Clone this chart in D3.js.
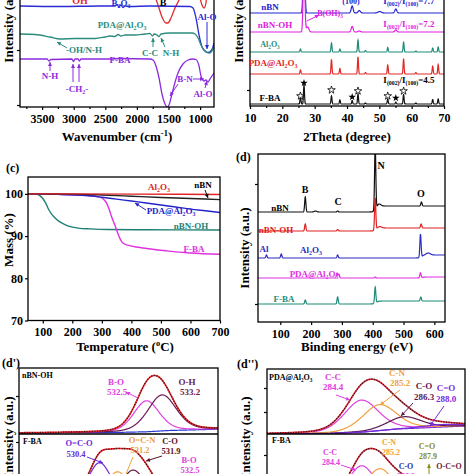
<!DOCTYPE html>
<html><head><meta charset="utf-8">
<script src="https://cdn.jsdelivr.net/npm/d3@7"></script>
<style>body{margin:0;background:#fff}svg{display:block}</style>
</head><body><script>
// ================= DATA =================
// (a) FTIR  [wavenumber cm-1, intensity a.u.]
const ftirTicks=[3500,3000,2500,2000,1500,1000];
const ftirMinor=[3750,3250,2750,2250,1750,1250];
const ftirNBNOH=[[3850,115],[1793,115],[1714,110],[1666,102],[1603,90],[1540,84],[1508,84],[1461,89],[1397,99],[1334,107],[1286,115],[1033,115],[1002,109],[970,102],[938,99],[907,104],[891,115],[780,115]];
const ftirNBN=[[3850,101],[3217,100.5],[2584,101],[2347,101],[2315,102.5],[2283,100],[2252,102],[2220,99.5],[2188,101],[2109,100.5],[1793,101],[1160,100.5],[1112,99],[1065,89],[1017,72],[970,60],[922,56],[875,54.5],[828,56],[796,60],[780,64]];
const ftirPDA=[[3850,73],[3613,72.5],[3375,70],[3217,68],[2980,68.5],[2663,68.5],[2505,70],[2426,71],[2347,70.5],[2299,72.5],[2252,71],[2188,72],[2030,72],[1872,73],[1793,73.5],[1753,71],[1729,73],[1682,72],[1650,70.5],[1619,73],[1476,74],[1239,74],[1128,74],[1081,73],[1033,69],[986,62],[938,57],[891,54.5],[843,54],[812,56],[780,61]];
const ftirFBA=[[3850,48],[3423,48],[3391,46],[3360,47.5],[3027,48],[3003,45.5],[2980,48],[2932,48],[2909,46],[2885,48],[2426,48],[2268,48.5],[1793,48],[1745,47],[1698,41],[1650,29],[1603,13],[1555,3],[1524,0],[1492,2],[1461,9],[1413,21],[1350,34],[1271,43],[1192,47],[1112,48],[1065,47.5],[1017,41],[986,31],[938,26],[907,27],[875,25],[844,28],[812,31],[780,34]];

// (b) XRD  peaks [2theta, height] on offsets
const xrdTicks=[10,20,30,40,50,60,70];
const xrdNames=['nBN','nBN-OH','Al2O3','PDA@Al2O3','F-BA'];
const xrdOffsets=[93,74,54,32,2];
const xrdPeaksNBN=[[26.7,80,0.25],[41.6,7,0.3],[43.8,2.5,0.35],[50.1,1.5,0.5],[55.1,4,0.3]];
const xrdPeaksNBNOH=[[26.7,80,0.25],[27.8,5,0.4],[41.6,5.5,0.3],[43.8,1,0.35],[55.1,2.2,0.3]];
const xrdPeaksAl2O3=[[25.6,3],[35.2,9],[37.8,3],[43.4,12],[45.7,1.5],[52.6,4.5],[57.5,10],[61.3,1],[66.5,4],[68.2,5]];
const xrdPeaksPDA=[[25.6,4],[35.2,14.5],[37.8,5.5],[43.4,17],[45.7,1.5],[52.6,9],[57.5,15],[61.3,1.5],[66.5,8],[68.2,9.5]];
const xrdPeaksFBA=[[25.6,7],[26.7,19],[35.2,8],[37.8,4],[41.6,3.5],[43.4,10],[45.7,1],[52.6,5],[55.1,2],[57.5,9.5],[61.3,1],[66.5,4.5],[68.2,5]];
const xrdStarsFilled=[[26.7,23],[41.6,9],[55.1,8]];
const xrdStarsHollow=[[25.6,10],[35.2,16],[43.4,15],[52.6,10],[57.5,15]];

// (c) TGA [temperature C, mass %]
const tgaXTicks=[100,200,300,400,500,600,700];
const tgaYTicks=[70,80,90,100];
const tgaAl2O3=[[50,100],[200,100],[400,99.95],[700,99.85]];
const tgaNBN=[[50,100],[200,99.95],[300,99.75],[400,99.45],[500,99.15],[600,98.9],[700,98.65]];
const tgaPDA=[[50,100],[150,99.9],[250,99.6],[300,99.2],[350,98.75],[400,98.3],[450,97.85],[500,97.35],[550,96.9],[600,96.4],[650,96],[700,95.6]];
const tgaNBNOH=[[50,100],[80,99.9],[90,99.6],[100,98.9],[110,97.8],[120,96.3],[130,95.2],[140,94.4],[155,93.5],[170,92.9],[190,92.3],[220,91.9],[260,91.7],[320,91.55],[450,91.5],[700,91.45]];
const tgaFBA=[[50,100],[150,99.9],[250,99.6],[290,99.3],[305,98.8],[316,97.8],[325,96.3],[333,94.6],[344,92.6],[356,90.3],[367,88.7],[384,87.9],[429,87.3],[519,86.5],[600,86],[700,85.7]];

// (d) XPS survey: peaks [BE eV, height, sigma?], offsets, steps [BE, rise]
const surveyTicks=[100,200,300,400,500,600];
const surveyNames=['nBN','nBN-OH','Al2O3','PDA@Al2O3','F-BA'];
const surveyOffsets=[110,91,64,44,18];
const surveySteps=[[408,6],[408,3],[556,3],[556,1],[408,3]];
const surveyPeaksNBN=[[181,15],[214,1,4],[286,1],[408,64],[420,2.5,6],[558,4]];
const surveyPeaksNBNOH=[[181,7],[286,1.5],[408,32],[422,1.5,7],[557,4]];
const surveyPeaksAl2O3=[[55,3],[103,4],[286,3],[555,23],[580,2,7]];
const surveyPeaksPDA=[[284,5],[290,4],[408,1],[555,5]];
const surveyPeaksFBA=[[181,4],[286,7],[408,16],[556,4]];

// (d') O1s fits: centers eV, heights, fwhm
const o1sNBNOHNames=['B-O','O-H'];
const o1sNBNOHCenters=[532.5,533.2];
const o1sNBNOHHeights=[31,36];
const o1sNBNOHFwhm=[1.35,1.5];
const o1sNBNOHBg=[[526.8,0],[531,0.5],[532.5,1.2],[533.5,2.5],[535.7,3.8]];
const o1sFBANames=['O=C-O','O=C-N','C-O','B-O'];
const o1sFBACenters=[530.4,531.2,531.9,532.5];
const o1sFBAHeights=[36,26,27,16];
const o1sFBAFwhm=[1.2,1.2,1.2,1.2];
const o1sFBABg=[[526.8,0],[530,1],[532,3],[535.7,5]];

// (d'') C1s fits
const c1sPDANames=['C-C','C-N','C-O','C=O'];
const c1sPDACenters=[284.4,285.2,286.3,288.0];
const c1sPDAHeights=[32,26,12,2.5];
const c1sPDAFwhm=[1.8,1.8,1.8,2.0];
const c1sPDABg=[[280.2,0],[283,0.5],[284.5,2],[286,5],[289,8]];
const c1sFBANames=['C-C','C-N','C-O','C=O','O-C=O'];
const c1sFBACenters=[284.4,285.2,286.2,287.9,288.8];
const c1sFBAHeights=[32,28,12,5,4];
const c1sFBAFwhm=[1.4,1.4,1.5,1.5,1.5];
const c1sFBABg=[[280.2,0],[283,0.5],[285,3],[287,6],[289,8]];

// ================= DRAW =================
const FONT='"Liberation Serif","Times New Roman",serif';
const svg=d3.select('body').append('svg').attr('width',474).attr('height',474);
const defs=svg.append('defs');
let clipN=0;
function clip(x,y,w,h){const id='c'+(clipN++);defs.append('clipPath').attr('id',id).append('rect').attr('x',x).attr('y',y).attr('width',w).attr('height',h);return 'url(#'+id+')';}
function rich(g,x,y,s,o={}){
  const size=o.size||10;
  const t=g.append('text').attr('x',x).attr('y',y).attr('font-size',size).attr('fill',o.color||'#000')
    .attr('text-anchor',o.anchor||'start').style('font-family',FONT).style('font-weight','bold');
  if(o.rotate) t.attr('transform',`rotate(${o.rotate},${x},${y})`);
  const re=/\^\{([^}]*)\}|_\{([^}]*)\}|([^_^]+)/g;let m;let cur=0;
  while((m=re.exec(s))){
    if(m[1]!==undefined){const sh=-size*0.38;t.append('tspan').attr('dy',sh-cur).attr('font-size',size*0.65).text(m[1]);cur=sh;}
    else if(m[2]!==undefined){const sh=size*0.25;t.append('tspan').attr('dy',sh-cur).attr('font-size',size*0.65).text(m[2]);cur=sh;}
    else{t.append('tspan').attr('dy',-cur).text(m[3]);cur=0;}
  }
  return t;
}
function arrow(g,x1,y1,x2,y2,c){
  g.append('line').attr('x1',x1).attr('y1',y1).attr('x2',x2).attr('y2',y2).attr('stroke',c).attr('stroke-width',1);
  const a=Math.atan2(y2-y1,x2-x1),L=4,W=2;
  const p=[[x2,y2],[x2-L*Math.cos(a)+W*Math.sin(a),y2-L*Math.sin(a)-W*Math.cos(a)],[x2-L*Math.cos(a)-W*Math.sin(a),y2-L*Math.sin(a)+W*Math.cos(a)]];
  g.append('polygon').attr('points',p.map(d=>d.join(',')).join(' ')).attr('fill',c);
}
function frame(x,y,w,h){svg.append('rect').attr('x',x).attr('y',y).attr('width',w).attr('height',h).attr('fill','none').attr('stroke','#000').attr('stroke-width',1.3);}
function styleAxis(sel,size){sel.select('.domain').remove();sel.selectAll('line').attr('stroke','#000').attr('stroke-width',1.2);
  sel.selectAll('text').style('font-family',FONT).style('font-weight','bold').style('font-size',(size||12)+'px').attr('fill','#000');}
function plotLine(g,data,x,y,color,w,curve){
  g.append('path').datum(data).attr('fill','none').attr('stroke',color).attr('stroke-width',w||1.2)
   .attr('d',d3.line().x(d=>x(d[0])).y(d=>y(d[1])).curve(curve||d3.curveMonotoneX));
}
function xTitle(x,y,s){rich(svg,x,y,s,{size:13,anchor:'middle'});}
function yTitle(x,y,s){rich(svg,x,y,s,{size:13,anchor:'middle',rotate:-90});}

// ---------- (a) ----------
{
const x=d3.scaleLinear().domain([3850,780]).range([20,214]);
const y=d3.scaleLinear().domain([0,110]).range([107,-3]);
const g=svg.append('g').attr('clip-path',clip(20,-10,194,117));
plotLine(g,ftirNBNOH,x,y,'#e42a2a',1.3);
plotLine(g,ftirNBN,x,y,'#2b2bd4',1.3);
plotLine(g,ftirPDA,x,y,'#2a8c7c',1.3);
plotLine(g,ftirFBA,x,y,'#8b2be0',1.3);
frame(20,-5,194,112);
styleAxis(svg.append('g').attr('transform','translate(0,107)').call(d3.axisBottom(x).tickValues(ftirTicks).tickSize(3).tickPadding(4).tickFormat(d3.format('d'))));
styleAxis(svg.append('g').attr('transform','translate(0,107)').call(d3.axisBottom(x).tickValues(ftirMinor).tickSize(2).tickFormat('')));
styleAxis(svg.append('g').attr('transform','translate(20,0)').call(d3.axisLeft(y).tickValues([2,57]).tickSize(3).tickFormat('')));
xTitle(117,141,'Wavenumber (cm^{-1})');
yTitle(13,22,'Intensity (a.u.)');
const a=svg.append('g');
rich(a,80,4,'OH',{color:'#e42a2a',anchor:'middle',size:10});
rich(a,121,6,'B_{2}O_{3}',{color:'#2b2bd4',anchor:'middle',size:9});
rich(a,163,6,'B',{anchor:'middle',size:10});
rich(a,207,20,'Al-O',{color:'#2b2bd4',anchor:'middle',size:9});arrow(a,207,22,207,49,'#2b2bd4');
rich(a,122,28,'PDA@Al_{2}O_{3}',{color:'#2a8c7c',anchor:'middle',size:9});
rich(a,84,53,'-OH/N-H',{color:'#2a8c7c',anchor:'middle',size:9});arrow(a,67,48,57,42,'#2a8c7c');
rich(a,150,56,'C-C',{color:'#2a8c7c',anchor:'middle',size:9});arrow(a,153,47,153,38,'#2a8c7c');
rich(a,171,56,'N-H',{color:'#2a8c7c',anchor:'middle',size:9});arrow(a,165,47,161,38,'#2a8c7c');
rich(a,120,63,'F-BA',{color:'#8b2be0',anchor:'middle',size:9});
rich(a,50,79,'N-H',{color:'#8b2be0',anchor:'middle',size:9});arrow(a,50,71,50,62,'#8b2be0');
rich(a,77,92,'-CH_{2}-',{color:'#8b2be0',anchor:'middle',size:9});arrow(a,73,82,73,64,'#8b2be0');arrow(a,79,82,79,64,'#8b2be0');
rich(a,185,82,'B-N',{color:'#8b2be0',anchor:'middle',size:9});arrow(a,178,84,170,96,'#8b2be0');arrow(a,193,79,204,79,'#8b2be0');
rich(a,203,97,'Al-O',{color:'#8b2be0',anchor:'middle',size:9});arrow(a,205,88,207,81,'#8b2be0');
}

// ---------- (b) ----------
{
const x=d3.scaleLinear().domain([10,70]).range([250,444]);
const y=d3.scaleLinear().domain([0,110]).range([106,-4]);
const g=svg.append('g').attr('clip-path',clip(250,-10,194,116));
const grid=d3.range(10,70.001,0.04);
function xrd(peaks,off,sig){return grid.map(t=>[t,off+d3.sum(peaks,p=>p[1]*Math.exp(-0.5*((t-p[0])/(p[2]||sig))**2))]);}
const cols=['#2424d0','#e020e0','#1f8c78','#e02828','#111'];
[xrdPeaksNBN,xrdPeaksNBNOH,xrdPeaksAl2O3,xrdPeaksPDA,xrdPeaksFBA].forEach((pk,i)=>plotLine(g,xrd(pk,xrdOffsets[i],0.15),x,y,cols[i],1.2,d3.curveLinear));
frame(250,-5,194,111);
const st=d3.symbol().type(d3.symbolStar).size(18);
svg.selectAll('.sf').data(xrdStarsFilled).join('path').attr('d',st).attr('transform',d=>`translate(${x(d[0])},${y(d[1])})`).attr('fill','#000');
svg.selectAll('.sh').data(xrdStarsHollow).join('path').attr('d',st).attr('transform',d=>`translate(${x(d[0])},${y(d[1])})`).attr('fill','#fff').attr('stroke','#000').attr('stroke-width',0.8);
styleAxis(svg.append('g').attr('transform','translate(0,106)').call(d3.axisBottom(x).tickValues(xrdTicks).tickSize(3).tickPadding(4)));
styleAxis(svg.append('g').attr('transform','translate(0,106)').call(d3.axisBottom(x).tickValues([15,25,35,45,55,65]).tickSize(2).tickFormat('')));
styleAxis(svg.append('g').attr('transform','translate(250,0)').call(d3.axisLeft(y).tickValues([16]).tickSize(3).tickFormat('')));
xTitle(347,141,'2Theta (degree)');
yTitle(243,22,'Intensity (a.u.)');
const a=svg.append('g');
rich(a,351,4,'(100)',{color:'#2424d0',anchor:'middle',size:8});
rich(a,409,4,'I_{(002)}/I_{(100)}=7.7',{color:'#2424d0',anchor:'middle',size:9});
rich(a,270,10,'nBN',{color:'#2424d0',anchor:'middle',size:9});
rich(a,275,28,'nBN-OH',{color:'#e020e0',anchor:'middle',size:9});
rich(a,330,16,'B(OH)_{3}',{color:'#e020e0',anchor:'middle',size:8});arrow(a,307,21,319,15,'#e020e0');
rich(a,409,27,'I_{(002)}/I_{(100)}=7.2',{color:'#e020e0',anchor:'middle',size:9});
rich(a,270,47,'Al_{2}O_{3}',{color:'#1f8c78',anchor:'middle',size:8});
rich(a,273,66,'PDA@Al_{2}O_{3}',{color:'#e02828',anchor:'middle',size:9});
rich(a,270,101,'F-BA',{anchor:'middle',size:9});
rich(a,409,83,'I_{(002)}/I_{(100)}=4.5',{anchor:'middle',size:9});
}

// ---------- (c) ----------
{
const x=d3.scaleLinear().domain([50,700]).range([28,220]);
const y=d3.scaleLinear().domain([70,104]).range([320.5,177]);
const g=svg.append('g').attr('clip-path',clip(28,177,192,143.5));
plotLine(g,tgaNBNOH,x,y,'#1f7f74',1.4);
plotLine(g,tgaFBA,x,y,'#e030e0',1.4);
plotLine(g,tgaPDA,x,y,'#2424c8',1.4);
plotLine(g,tgaNBN,x,y,'#222',1.4);
plotLine(g,tgaAl2O3,x,y,'#e02424',1.4);
frame(28,177,192,143.5);
styleAxis(svg.append('g').attr('transform','translate(0,320.5)').call(d3.axisBottom(x).tickValues(tgaXTicks).tickSize(3).tickPadding(4)));
styleAxis(svg.append('g').attr('transform','translate(28,0)').call(d3.axisLeft(y).tickValues(tgaYTicks).tickSize(3).tickPadding(2)));
xTitle(125,351,'Temperature (^{o}C)');
yTitle(13,240,'Mass (%)');
const a=svg.append('g');
rich(a,6,172,'(c)',{size:12});
rich(a,159,190,'Al_{2}O_{3}',{color:'#e02424',anchor:'middle',size:9});
rich(a,203,188,'nBN',{anchor:'middle',size:9});arrow(a,205,190,208,198,'#111');
rich(a,171,214,'PDA@Al_{2}O_{3}',{color:'#2424c8',anchor:'middle',size:9});arrow(a,146,210,135,203,'#2424c8');
rich(a,191,229,'nBN-OH',{color:'#1f7f74',anchor:'middle',size:9});
rich(a,194,252,'F-BA',{color:'#e030e0',anchor:'middle',size:9});
}

// ---------- (d) ----------
{
const x=d3.scaleLinear().domain([27.6,634.6]).range([258,445]);
const y=d3.scaleLinear().domain([0,168]).range([322,154]);
const g=svg.append('g').attr('clip-path',clip(258,154,187,168));
const grid=d3.range(27.6,634.6,0.5);
function surv(peaks,off,step){return grid.map(e=>[e,off+step[1]/(1+Math.exp(-(e-step[0]-3)/4))+d3.sum(peaks,p=>p[1]*Math.exp(-0.5*((e-p[0])/(p[2]||2))**2))]);}
const cols=['#111','#e02020','#2c2cc0','#e030e0','#1f8c78'];
[surveyPeaksNBN,surveyPeaksNBNOH,surveyPeaksAl2O3,surveyPeaksPDA,surveyPeaksFBA].forEach((pk,i)=>plotLine(g,surv(pk,surveyOffsets[i],surveySteps[i]),x,y,cols[i],1.2,d3.curveLinear));
frame(258,154,187,168);
styleAxis(svg.append('g').attr('transform','translate(0,322)').call(d3.axisBottom(x).tickValues(surveyTicks).tickSize(3).tickPadding(4)));
styleAxis(svg.append('g').attr('transform','translate(258,0)').call(d3.axisLeft(y).tickValues([138,18]).tickSize(3).tickFormat('')));
xTitle(357,351,'Binding energy (eV)');
yTitle(249,248,'Intensity (a.u.)');
const a=svg.append('g');
rich(a,236,161,'(d)',{size:12});
rich(a,305,193,'B',{anchor:'middle',size:10});
rich(a,338,205,'C',{anchor:'middle',size:10});
rich(a,381,169,'N',{anchor:'middle',size:10});
rich(a,421,197,'O',{anchor:'middle',size:10});
rich(a,280,211,'nBN',{anchor:'middle',size:9});
rich(a,276,233,'nBN-OH',{color:'#e02020',anchor:'middle',size:9});
rich(a,264,252,'Al',{color:'#2c2cc0',anchor:'middle',size:9});
rich(a,311,253,'Al_{2}O_{3}',{color:'#2c2cc0',anchor:'middle',size:9});
rich(a,314,277,'PDA@Al_{2}O_{3}',{color:'#e030e0',anchor:'middle',size:9});
rich(a,284,302,'F-BA',{color:'#1f8c78',anchor:'middle',size:9});
}

// ---------- fit panels helper ----------
function pv(e,c,h,f){const d=(e-c)/f;return h*(0.7*Math.exp(-4*Math.LN2*d*d)+0.3/(1+4*d*d));}
function fitPanel(g,x,y,dom,centers,heights,fwhm,bg,compCols,bgCol,envCol){
  const grid=d3.range(dom[0],dom[1]+0.001,0.02);
  const bgs=d3.scaleLinear().domain(bg.map(d=>d[0])).range(bg.map(d=>d[1]));
  plotLine(g,grid.map(e=>[e,bgs(e)]),x,y,bgCol,1.2,d3.curveLinear);
  centers.forEach((c,i)=>plotLine(g,grid.map(e=>[e,bgs(e)+pv(e,c,heights[i],fwhm[i])]),x,y,compCols[i],1.2,d3.curveLinear));
  const env=grid.map(e=>[e,bgs(e)+d3.sum(centers,(c,i)=>pv(e,c,heights[i],fwhm[i]))]);
  plotLine(g,env,x,y,envCol,1.6,d3.curveLinear);
  g.append('path').datum(env).attr('fill','none').attr('stroke','#3a0d0d').attr('stroke-width',1.3).attr('stroke-dasharray','1 1.6')
   .attr('d',d3.line().x(d=>x(d[0])).y(d=>y(d[1])));
}

// ---------- (d') ----------
{
const dom=[526.8,535.7];
const x=d3.scaleLinear().domain(dom).range([19,218]);
const yU=d3.scaleLinear().domain([0,65]).range([433,368]);
const yL=d3.scaleLinear().domain([0,66]).range([500,434]);
const gU=svg.append('g').attr('clip-path',clip(19,368,199,66));
const gL=svg.append('g').attr('clip-path',clip(19,434,199,50));
fitPanel(gU,x,yU,dom,o1sNBNOHCenters,o1sNBNOHHeights,o1sNBNOHFwhm,o1sNBNOHBg,['#e040e0','#6b1a55'],'#2a3ad0','#e8242a');
fitPanel(gL,x,yL,dom,o1sFBACenters,o1sFBAHeights,o1sFBAFwhm,o1sFBABg,['#6a2ad8','#f0a040','#6b1a40','#e040e0'],'#2a3ad0','#e8242a');
frame(19,368,199,120);
svg.append('line').attr('x1',19).attr('x2',218).attr('y1',434).attr('y2',434).attr('stroke','#000').attr('stroke-width',1.3);
styleAxis(svg.append('g').attr('transform','translate(19,0)').call(d3.axisLeft(yU).tickValues([37]).tickSize(3).tickFormat('')));
styleAxis(svg.append('g').attr('transform','translate(19,0)').call(d3.axisLeft(yL).tickValues([58]).tickSize(3).tickFormat('')));
yTitle(13,437,'Intensity (a.u.)');
const a=svg.append('g');
rich(a,2,367,"(d')",{size:12});
rich(a,22,378,'nBN-OH',{size:8});
rich(a,116,385,'B-O',{color:'#e040e0',anchor:'middle',size:9});
rich(a,117,395,'532.5',{color:'#e040e0',anchor:'middle',size:9});arrow(a,138,398,126,392,'#e040e0');
rich(a,187,385,'O-H',{color:'#6b1a55',anchor:'middle',size:9});
rich(a,190,395,'533.2',{color:'#6b1a55',anchor:'middle',size:9});
rich(a,23,444,'F-BA',{size:8});
rich(a,79,446,'O=C-O',{color:'#6a2ad8',anchor:'middle',size:8.5});
rich(a,76,457,'530.4',{color:'#6a2ad8',anchor:'middle',size:8.5});arrow(a,87,457,103,463,'#6a2ad8');
rich(a,142,443,'O=C-N',{color:'#f0a040',anchor:'middle',size:8.5});
rich(a,140,453,'531.2',{color:'#f0a040',anchor:'middle',size:8.5});a.append('line').attr('x1',133).attr('y1',457).attr('x2',126).attr('y2',474).attr('stroke','#f0a040');
rich(a,170,444,'C-O',{color:'#5a1020',anchor:'middle',size:8.5});
rich(a,171,454,'531.9',{color:'#5a1020',anchor:'middle',size:8.5});arrow(a,162,456,146,461,'#5a1020');
rich(a,189,463,'B-O',{color:'#e040e0',anchor:'middle',size:8.5});
rich(a,190,473,'532.5',{color:'#e040e0',anchor:'middle',size:8.5});
}

// ---------- (d'') ----------
{
const dom=[280.2,289.0];
const x=d3.scaleLinear().domain(dom).range([267,465]);
const yU=d3.scaleLinear().domain([0,65]).range([434,369]);
const yL=d3.scaleLinear().domain([0,66]).range([500,434]);
const gU=svg.append('g').attr('clip-path',clip(267,369,198,65));
const gL=svg.append('g').attr('clip-path',clip(267,434,198,50));
fitPanel(gU,x,yU,dom,c1sPDACenters,c1sPDAHeights,c1sPDAFwhm,c1sPDABg,['#e040e0','#f0a040','#5a1a50','#7a2ae0'],'#6a2ad8','#d8283a');
fitPanel(gL,x,yL,dom,c1sFBACenters,c1sFBAHeights,c1sFBAFwhm,c1sFBABg,['#e040e0','#f0a040','#3030b0','#8a8a10','#6b1a40'],'#6a2ad8','#d8283a');
frame(267,369,198,120);
svg.append('line').attr('x1',267).attr('x2',465).attr('y1',434).attr('y2',434).attr('stroke','#000').attr('stroke-width',1.3);
styleAxis(svg.append('g').attr('transform','translate(267,0)').call(d3.axisLeft(yU).tickValues([46,22]).tickSize(3).tickFormat('')));
styleAxis(svg.append('g').attr('transform','translate(267,0)').call(d3.axisLeft(yL).tickValues([45]).tickSize(3).tickFormat('')));
yTitle(250,437,'Intensity (a.u.)');
const a=svg.append('g');
rich(a,237,368,"(d'')",{size:12});
rich(a,269,380,'PDA@Al_{2}O_{3}',{size:8});
rich(a,333,380,'C-C',{color:'#e040e0',anchor:'middle',size:9});
rich(a,333,390,'284.4',{color:'#e040e0',anchor:'middle',size:9});arrow(a,336,395,350,400,'#e040e0');
rich(a,397,376,'C-N',{color:'#f0a040',anchor:'middle',size:9});
rich(a,400,386,'285.2',{color:'#f0a040',anchor:'middle',size:9});arrow(a,400,390,380,405,'#f0a040');
rich(a,424,389,'C-O',{color:'#5a1a50',anchor:'middle',size:9});
rich(a,424,400,'286.3',{color:'#5a1a50',anchor:'middle',size:9});arrow(a,413,403,401,416,'#5a1a50');
rich(a,446,391,'C=O',{color:'#7a2ae0',anchor:'middle',size:9});
rich(a,446,402,'288.0',{color:'#7a2ae0',anchor:'middle',size:9});arrow(a,444,406,430,426,'#7a2ae0');
rich(a,272,443,'F-BA',{size:8});
rich(a,389,445,'C-N',{color:'#f0a040',anchor:'middle',size:8});
rich(a,391,455,'285.2',{color:'#f0a040',anchor:'middle',size:8});
rich(a,330,455,'C-C',{color:'#e040e0',anchor:'middle',size:8});
rich(a,331,465,'284.4',{color:'#e040e0',anchor:'middle',size:8});arrow(a,341,465,356,470,'#e040e0');
rich(a,427,449,'C=O',{color:'#8a8a10',anchor:'middle',size:8});
rich(a,428,459,'287.9',{color:'#8a8a10',anchor:'middle',size:8});arrow(a,429,474,429,464,'#8a8a10');
rich(a,406,469,'C-O',{color:'#3030b0',anchor:'middle',size:8});
rich(a,406,479,'286.2',{color:'#e040e0',anchor:'middle',size:8});
rich(a,449,469,'O-C=O',{color:'#6b1a40',anchor:'middle',size:8});
}
</script></body></html>
